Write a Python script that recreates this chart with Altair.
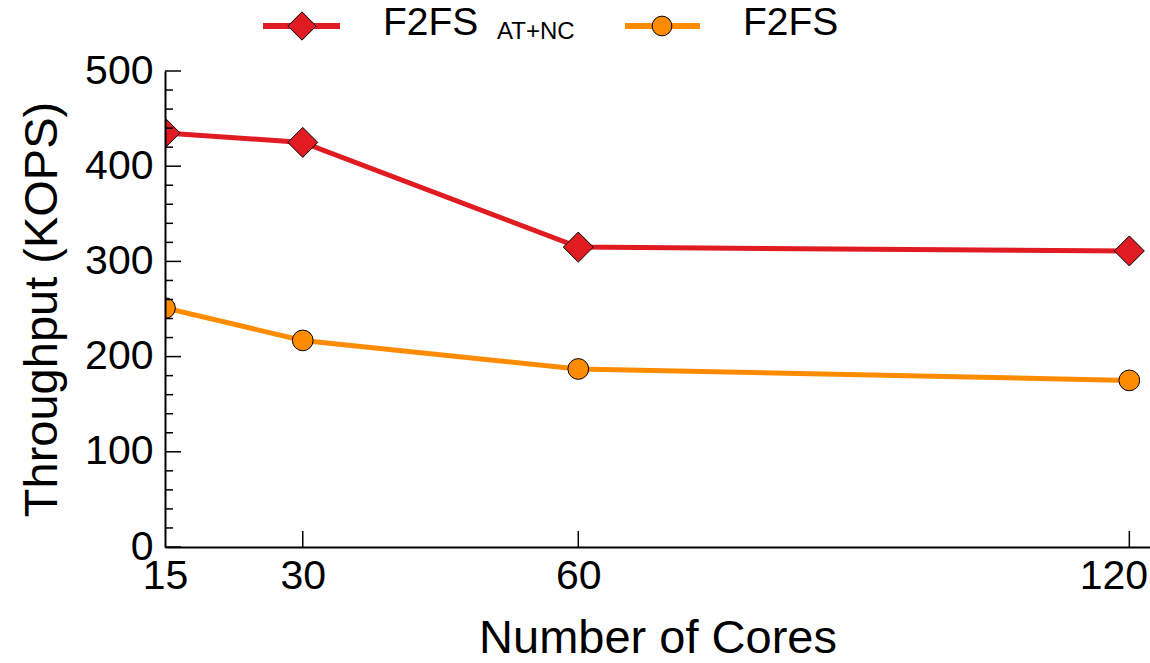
import altair as alt
import pandas as pd

cores = [15, 30, 60, 120]
f2fs_atnc = [435, 425, 315, 311]
f2fs = [251, 217, 187, 175]
series_names = ["F2FS AT+NC", "F2FS"]
x_tick_values = [15, 30, 60, 120]
y_major = [0, 100, 200, 300, 400, 500]
y_minor = [20, 40, 60, 80, 120, 140, 160, 180, 220, 240, 260, 280,
           320, 340, 360, 380, 420, 440, 460, 480]

RED = "#E01B22"
ORANGE = "#FF8C00"
FONT = "Liberation Sans"
W, H = 985, 476

rows = []
for c, v in zip(cores, f2fs_atnc):
    rows.append({"cores": c, "kops": v, "series": series_names[0]})
for c, v in zip(cores, f2fs):
    rows.append({"cores": c, "kops": v, "series": series_names[1]})
df = pd.DataFrame(rows)

xscale = alt.Scale(domain=[15, 122.25], nice=False, zero=False)
yscale = alt.Scale(domain=[0, 500], nice=False)
color = alt.Color("series:N", scale=alt.Scale(domain=series_names, range=[RED, ORANGE]), legend=None)

xaxis = alt.Axis(values=x_tick_values, ticks=False, tickSize=0, grid=False, labelFlush=False,
                 labelFont=FONT, labelFontSize=41, labelColor="black", labelPadding=9,
                 labelOffset={"condition": {"test": "datum.value === 120", "value": -16}, "value": 0},
                 domainColor="black", domainWidth=2, zindex=1,
                 title="Number of Cores", titleFont=FONT, titleFontSize=47,
                 titleFontWeight="normal", titleColor="black", titlePadding=19)
yaxis = alt.Axis(values=y_major, ticks=False, tickSize=0, grid=False,
                 labelFont=FONT, labelFontSize=41, labelColor="black", labelPadding=12,
                 domainColor="black", domainWidth=2, zindex=1,
                 title="Throughput (KOPS)", titleFont=FONT, titleFontSize=47,
                 titleFontWeight="normal", titleColor="black", titlePadding=18)

base = alt.Chart(df)
x = alt.X("cores:Q", scale=xscale, axis=xaxis)
y = alt.Y("kops:Q", scale=yscale, axis=yaxis)

lines = base.mark_line(strokeWidth=5, clip=True).encode(x=x, y=y, color=color, detail="series:N")
pts_red = base.transform_filter(alt.datum.series == series_names[0]).mark_point(
    shape="diamond", filled=True, size=900, stroke="black", strokeWidth=1, opacity=1,
    fill=RED, clip=True).encode(x=alt.X("cores:Q", scale=xscale), y=alt.Y("kops:Q", scale=yscale))
pts_or = base.transform_filter(alt.datum.series == series_names[1]).mark_point(
    shape="circle", filled=True, size=430, stroke="black", strokeWidth=1, opacity=1,
    fill=ORANGE, clip=True).encode(x=alt.X("cores:Q", scale=xscale), y=alt.Y("kops:Q", scale=yscale))

# inner tick marks
major_df = pd.DataFrame({"v": y_major})
minor_df = pd.DataFrame({"v": y_minor})
xt_df = pd.DataFrame({"v": x_tick_values[1:]})
ymaj = alt.Chart(major_df).mark_rule(color="black", strokeWidth=1.5).encode(
    y=alt.Y("v:Q", scale=yscale), x=alt.value(0), x2=alt.value(16))
ymin = alt.Chart(minor_df).mark_rule(color="black", strokeWidth=1.5).encode(
    y=alt.Y("v:Q", scale=yscale), x=alt.value(0), x2=alt.value(8))
xt = alt.Chart(xt_df).mark_rule(color="black", strokeWidth=1.5).encode(
    x=alt.X("v:Q", scale=xscale), y=alt.value(H), y2=alt.value(H - 16))

# manual legend
one = pd.DataFrame({"k": [0]})
leg = alt.Chart(one)
leg_red_line = leg.mark_rule(color=RED, strokeWidth=6).encode(
    x=alt.value(98), x2=alt.value(175), y=alt.value(-45))
leg_red_pt = leg.mark_point(shape="diamond", filled=True, size=800, fill=RED, stroke="black",
                            strokeWidth=1, opacity=1).encode(x=alt.value(137), y=alt.value(-45))
leg_red_txt = leg.mark_text(text="F2FS", font=FONT, fontSize=39, align="left", baseline="alphabetic",
                            color="black").encode(x=alt.value(218), y=alt.value(-36))
leg_red_sub = leg.mark_text(text="AT+NC", font=FONT, fontSize=24, align="left", baseline="alphabetic",
                            color="black").encode(x=alt.value(332), y=alt.value(-32))
leg_or_line = leg.mark_rule(color=ORANGE, strokeWidth=6).encode(
    x=alt.value(460), x2=alt.value(535), y=alt.value(-45))
leg_or_pt = leg.mark_point(shape="circle", filled=True, size=390, fill=ORANGE, stroke="black",
                           strokeWidth=1, opacity=1).encode(x=alt.value(497), y=alt.value(-45))
leg_or_txt = leg.mark_text(text="F2FS", font=FONT, fontSize=39, align="left", baseline="alphabetic",
                           color="black").encode(x=alt.value(578), y=alt.value(-36))

chart = alt.layer(
    lines, pts_red, pts_or, ymaj, ymin, xt,
    leg_red_line, leg_red_pt, leg_red_txt, leg_red_sub,
    leg_or_line, leg_or_pt, leg_or_txt,
).properties(
    width=W, height=H,
    autosize=alt.AutoSizeParams(type="none"),
    padding={"left": 165, "top": 71, "right": 0, "bottom": 116},
    background="white",
).configure_view(stroke=None)

chart.save("out.html", embed_options={"renderer": "svg", "actions": False})
